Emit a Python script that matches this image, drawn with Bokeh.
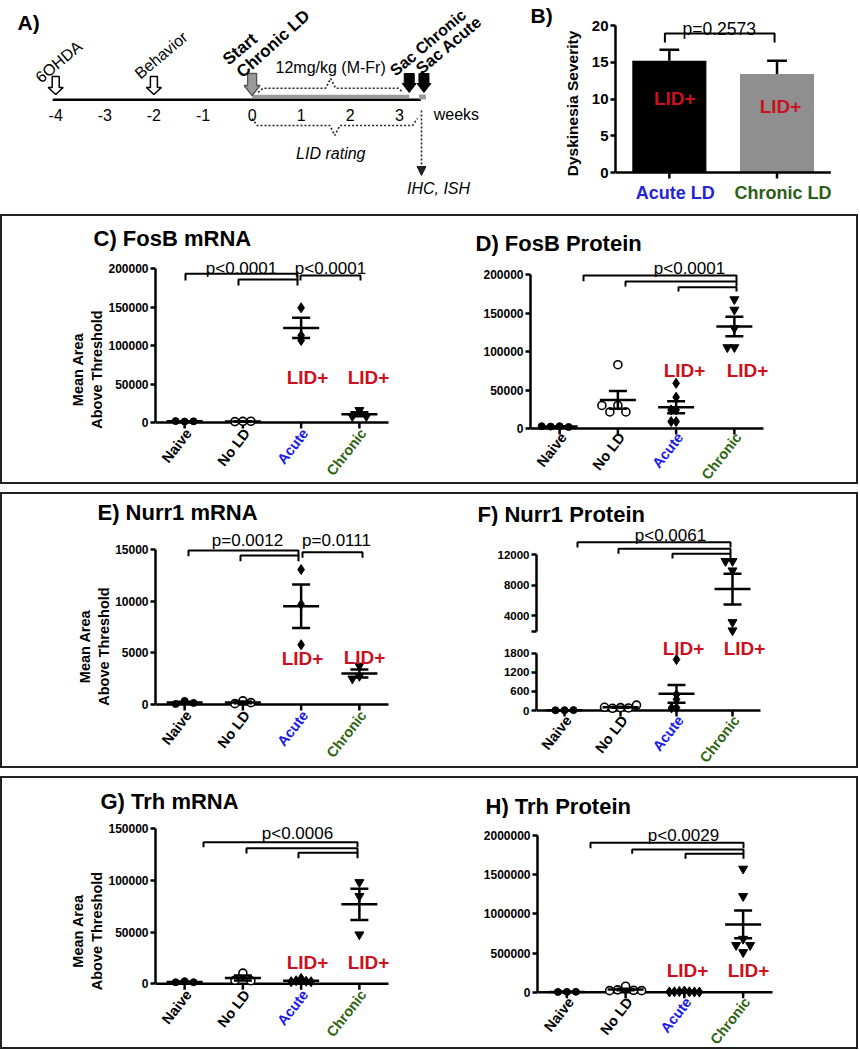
import math
import numpy as np
from bokeh.plotting import figure
from bokeh.layouts import row, column
from bokeh.models import (Range1d, FixedTicker, Arrow, NormalHead, BasicTickFormatter)
from bokeh.embed import file_html
from bokeh.resources import INLINE
from bokeh.core.properties import value

FONT = "Liberation Sans"
RED = "#cc1020"
BLUE = "#1c1ce8"
GREEN = "#2e6410"

# ---------------- data ----------------
# A) experimental timeline (weeks)
week_ticks = [-4, -3, -2, -1, 0, 1, 2, 3]
event_labels = ["6OHDA", "Behavior", "Start", "Sac Chronic", "Sac Acute"]
event_weeks = [-4, -2, 0, 3.2, 3.5]
chronic_ld_span = [0, 3.2]
lid_rating_span = [0, 3.45]
dose_label = "12mg/kg (M-Fr)"

# B) dyskinesia severity
b_groups = ["Acute LD", "Chronic LD"]
b_means = [15.2, 13.4]
b_sems = [1.5, 1.8]
b_pvalue = "p=0.2573"

# C-H) scatter panels: groups Naive, No LD, Acute, Chronic
groups = ["Naive", "No LD", "Acute", "Chronic"]
group_colors = ["black", "black", BLUE, GREEN]

fosb_mrna_naive = [1200, 1800, 1500]
fosb_mrna_nold = [1500, 1200, 1600]
fosb_mrna_acute = [149000, 106500, 113000]
fosb_mrna_chronic = [16000, 8000, 8000]

fosb_prot_naive = [3000, 2500, 2000, 3000]
fosb_prot_nold = [83000, 30000, 21500, 21500, 30000]
fosb_prot_acute = [58800, 40700, 24200, 24200, 9000, 9000]
fosb_prot_chronic = [168000, 154500, 130500, 105600, 105600]

nurr1_mrna_naive = [350, 50, 150]
nurr1_mrna_nold = [350, 80, 180]
nurr1_mrna_acute = [13060, 9680, 5780]
nurr1_mrna_chronic = [3750, 2750, 2500]

nurr1_prot_naive = [10, 8, 12]
nurr1_prot_nold = [90, 70, 80, 100, 170]
nurr1_prot_acute = [1600, 500, 350, 90, 80]
nurr1_prot_chronic = [11130, 11130, 9910, 3170, 2090]

trh_mrna_naive = [2500, 1500, 1500]
trh_mrna_nold = [10300, 3500, 3000]
trh_mrna_acute = [5200, 3000, 2500, 2000, 2000]
trh_mrna_chronic = [98300, 84800, 47700]

trh_prot_naive = [4000, 3000, 5000]
trh_prot_nold = [76000, 30000, 25000, 20000, 20000]
trh_prot_acute = [15000, 8000, 5000, 5000, 3000, 3000, 2000]
trh_prot_chronic = [1575000, 1225000, 680000, 600000, 600000, 510000]

fosb_mrna = [fosb_mrna_naive, fosb_mrna_nold, fosb_mrna_acute, fosb_mrna_chronic]
fosb_prot = [fosb_prot_naive, fosb_prot_nold, fosb_prot_acute, fosb_prot_chronic]
nurr1_mrna = [nurr1_mrna_naive, nurr1_mrna_nold, nurr1_mrna_acute, nurr1_mrna_chronic]
nurr1_prot = [nurr1_prot_naive, nurr1_prot_nold, nurr1_prot_acute, nurr1_prot_chronic]
trh_mrna = [trh_mrna_naive, trh_mrna_nold, trh_mrna_acute, trh_mrna_chronic]
trh_prot = [trh_prot_naive, trh_prot_nold, trh_prot_acute, trh_prot_chronic]

GROUP_MARKERS = [
    dict(marker="circle", size=7, fill_color="black", line_color="black", line_width=1),
    dict(marker="circle", size=8, fill_color="white", line_color="black", line_width=1.6),
    dict(marker="diamond", size=10, fill_color="black", line_color="black", line_width=1),
    dict(marker="inverted_triangle", size=9, fill_color="black", line_color="black", line_width=1),
]
SWARM_STEP = [9.0, 8.0, 5.0, 7.0]


def swarm(vals, s_px, step=7.0):
    size = step * 0.95
    cands = [0.0]
    for k in range(1, 12):
        cands += [-k * step, k * step]
    placed, out = [], []
    for v in vals:
        yp = v * s_px
        chosen = cands[-1]
        for c in cands:
            if all((c - px) ** 2 + (yp - py) ** 2 >= size ** 2 for px, py in placed):
                chosen = c
                break
        placed.append((chosen, yp))
        out.append(chosen)
    return out


def new_fig(w, h, xr, yr, left=0, xaxis=None, yaxis=None):
    f = figure(width=w, height=h, title=None, x_range=xr, y_range=yr,
               x_axis_type=xaxis, y_axis_type=yaxis, output_backend="svg",
               toolbar_location=None, min_border_left=left, min_border_right=0,
               min_border_top=0, min_border_bottom=0, frame_align=False)
    f.outline_line_color = None
    f.grid.visible = False
    return f


def title_strip(ox, oy, w, th, col, rw, text):
    f = new_fig(w, th, Range1d(0, w), Range1d(th, 0))
    f.text(x=[col - ox], y=[rw - oy], text=[text], text_font=value(FONT), text_font_size="22px",
           text_font_style="bold", text_align="left", text_baseline="middle", text_color="black")
    return f


class Panel:
    """A figure placed at page origin (ox, oy); all positions given in page pixels."""

    def __init__(self, ox, oy, w, h, left, right, ra, va, rb, vb, ncat=4):
        self.ox, self.oy, self.w, self.h = ox, oy, w, h
        self.s = (rb - ra) / (va - vb)
        self.y0 = ra + va * self.s
        self.left, self.right = left, right
        self.unit = (right - left) / ncat
        self.ncat = ncat
        self.p = new_fig(w, h, Range1d(self.X(left), self.X(ox + w)),
                         Range1d(self.Y(oy + h), self.Y(oy)),
                         left=int(round(left - ox)), yaxis="linear")

    def Y(self, r):
        return (self.y0 - r) / self.s

    def X(self, c):
        return -0.5 + (c - self.left) / self.unit

    def yaxis(self, ticks, bounds, size="12px", overrides=None):
        ax = self.p.yaxis[0]
        ax.ticker = FixedTicker(ticks=ticks)
        ax.formatter = BasicTickFormatter(use_scientific=False)
        ax.bounds = bounds
        ax.axis_line_width = 2.5
        ax.axis_line_color = "black"
        ax.major_tick_line_width = 2.5
        ax.major_tick_line_color = "black"
        ax.major_tick_in = 0
        ax.major_tick_out = 5
        ax.minor_tick_line_color = None
        ax.major_label_text_font = FONT
        ax.major_label_text_font_size = size
        ax.major_label_text_font_style = "bold"
        ax.major_label_text_color = "black"
        ax.major_label_standoff = 2
        if overrides:
            ax.major_label_overrides = overrides

    def ylabel(self, text, size="14.5px", standoff=0):
        ax = self.p.yaxis[0]
        ax.axis_label = text
        ax.axis_label_text_font = FONT
        ax.axis_label_text_font_size = size
        ax.axis_label_text_font_style = "bold"
        ax.axis_label_text_color = "black"
        ax.axis_label_standoff = standoff

    def xaxis(self):
        n = self.ncat
        cats = list(range(n))
        self.p.line([self.X(self.left), self.X(self.right)], [0, 0], line_width=2.5, line_color="black")
        self.p.segment(x0=cats, y0=[0] * n, x1=cats, y1=[self.Y(self.y0 + 6)] * n,
                       line_width=2.5, line_color="black")

    def text(self, col, rw, t, size="17px", style="normal", color="black", align="center",
             baseline="middle", angle=0.0):
        self.p.text(x=[self.X(col)], y=[self.Y(rw)], text=[t], text_font=value(FONT),
                    text_font_size=size, text_font_style=style, text_color=color,
                    text_align=align, text_baseline=baseline, angle=angle)

    def cat_labels(self, names, colors, size="14.5px", angle=52, dx=4, dy=8):
        n = len(names)
        self.p.text(x=[i + dx / self.unit for i in range(n)], y=[self.Y(self.y0 + dy)] * n,
                    text=names, text_color=colors, angle=math.radians(angle),
                    text_align="right", text_baseline="middle", text_font=value(FONT),
                    text_font_size=size, text_font_style="bold")

    def lid(self, col, rw):
        self.text(col, rw, "LID+", size="19px", style="bold", color=RED)

    def bracket(self, c1, c2, r, d):
        xs = [self.X(c1), self.X(c1), self.X(c2), self.X(c2)]
        ys = [self.Y(d), self.Y(r), self.Y(r), self.Y(d)]
        self.p.line(xs, ys, line_width=2, line_color="black")

    def groups(self, data, vmin=-1e18, vmax=1e18):
        for i, vals in enumerate(data):
            sel = [v for v in vals if vmin <= v < vmax]
            if sel:
                offs = swarm(sel, self.s, step=SWARM_STEP[i])
                xs = [i + o / self.unit for o in offs]
                self.p.scatter(xs, sel, **GROUP_MARKERS[i])
            m = float(np.mean(vals))
            se = float(np.std(vals, ddof=1) / math.sqrt(len(vals)))
            if vmin <= m < vmax:
                hw, cw = 18 / self.unit, 9 / self.unit
                self.p.segment(x0=[i - hw, i - cw, i - cw, i], y0=[m, m + se, m - se, m - se],
                               x1=[i + hw, i + cw, i + cw, i], y1=[m, m + se, m - se, m + se],
                               line_width=2.5, line_color="black")


# ---------------- Panel A: timeline (also carries the "B)" tag) ----------------
PXW = 49.1
A_W = 560
XS = -251.6 / PXW
XE = XS + A_W / PXW
pA = new_fig(A_W, 206, Range1d(XS, XE), Range1d(206, 0))


def W(px):
    return px / PXW


def atext(x, y, t, size="16px", style="normal", align="center", baseline="middle",
          angle=0.0, xo=0):
    pA.text(x=[x], y=[y], text=[t], text_font=value(FONT), text_font_size=size,
            text_font_style=style, text_align=align, text_baseline=baseline,
            angle=math.radians(angle), x_offset=xo, text_color="black")


def block_arrow(xc, top, base, tip, sw, hw):
    xs = [xc - W(sw / 2), xc + W(sw / 2), xc + W(sw / 2), xc + W(hw / 2), xc,
          xc - W(hw / 2), xc - W(sw / 2)]
    ys = [top, top, base, base, tip, base, base]
    return xs, ys


def brace(x1, x2, rw, end_row, tip_row, xc=None):
    xc = (x1 + x2) / 2 if xc is None else xc
    e = W(5)
    xs = [x1, x1 + e, xc - e, xc, xc + e, x2 - e, x2]
    ys = [end_row, rw, rw, tip_row, rw, rw, end_row]
    pA.line(xs, ys, line_width=1.6, line_color="#222222", line_dash="2 2")


pA.line([week_ticks[0] - W(3), event_weeks[4] - W(3)], [99.2, 99.2], line_width=2.5, line_color="black")
pA.line(chronic_ld_span, [96, 96], line_width=3.5, line_color="#9a9a9a")
pA.quad(left=[event_weeks[4] - W(5)], right=[event_weeks[4] + W(2)], top=[94], bottom=[99],
        fill_color="#9a9a9a", line_color=None)

hx, hy = zip(*[block_arrow(event_weeks[i], 76, 87, 94, 7, 15) for i in (0, 1)])
pA.patches(list(hx), list(hy), fill_color="white", line_color="black", line_width=1.5)
gx, gy = block_arrow(event_weeks[2], 73, 85, 95, 9, 16)
pA.patches([gx], [gy], fill_color="#9a9a9a", line_color="#555555", line_width=1.3)
bx, by = zip(*[block_arrow(event_weeks[i], 73, 83, 92, 10, 14) for i in (3, 4)])
pA.patches(list(bx), list(by), fill_color="black", line_color="black", line_width=1)

atext(event_weeks[0], 79, event_labels[0], size="16px", align="left", baseline="alphabetic", angle=40, xo=-18)
atext(event_weeks[1], 75, event_labels[1], size="16px", align="left", baseline="alphabetic", angle=40, xo=-17)
atext(event_weeks[2], 61, event_labels[2], size="17px", style="bold", align="left", baseline="alphabetic", angle=40, xo=-27)
atext(event_weeks[2], 74, "Chronic LD", size="17px", style="bold", align="left", baseline="alphabetic", angle=42, xo=-13)
atext(event_weeks[3], 72, event_labels[3], size="16px", style="bold", align="left", baseline="alphabetic", angle=40, xo=-17)
atext(event_weeks[4], 70, event_labels[4], size="16.5px", style="bold", align="left", baseline="alphabetic", angle=40, xo=-6)

pA.text(x=week_ticks, y=[114] * len(week_ticks), text=[str(t) for t in week_ticks],
        text_font=value(FONT), text_font_size="16px", text_align="center",
        text_baseline="middle", text_color="black")
atext(week_ticks[-1] + 0.7, 114, "weeks", align="left")

brace(chronic_ld_span[0] + W(6), chronic_ld_span[1] - W(6), 87.7, 92, 78)
atext(sum(chronic_ld_span) / 2, 67, dose_label)
brace(lid_rating_span[0], lid_rating_span[1] - W(4), 125, 118, 135)
atext(sum(lid_rating_span) / 2 - W(6), 153, "LID rating", style="italic")
pA.add_layout(Arrow(x_start=lid_rating_span[1], y_start=110, x_end=lid_rating_span[1], y_end=175,
                    line_dash="2 2", line_width=1.6, line_color="#222222",
                    end=NormalHead(size=9, fill_color="#222222", line_color="#222222")))
atext(lid_rating_span[1] + W(17), 188, "IHC, ISH", style="italic")
atext(XS + W(17), 21.5, "A)", size="21px", style="bold", align="left")
atext(XS + W(530), 15, "B)", size="21px", style="bold", align="left")

# ---------------- Panel B: bars ----------------
B = Panel(A_W, 0, 860 - A_W, 206, 612, 830, 25, 20, 172, 0, ncat=2)
B.yaxis([0, 5, 10, 15, 20], (0, 20), size="15px")
B.ylabel("Dyskinesia Severity", size="15.5px", standoff=8)
B.p.vbar(x=[0, 1], bottom=0, top=b_means, width=75 / B.unit, fill_color=["black", "#8f8f8f"],
         line_color=None)
cw = 10 / B.unit
B.p.segment(x0=[0, 1, -cw, 1 - cw], y0=[b_means[0], b_means[1], b_means[0] + b_sems[0], b_means[1] + b_sems[1]],
            x1=[0, 1, cw, 1 + cw], y1=[b_means[0] + b_sems[0], b_means[1] + b_sems[1],
                                       b_means[0] + b_sems[0], b_means[1] + b_sems[1]],
            line_width=2.5, line_color="black")
B.xaxis()
B.bracket(662, 773, 33, 42)
B.text(717, 28, b_pvalue, size="17.5px")
B.lid(672, 98)
B.lid(779, 106)
B.p.text(x=[i + 6 / B.unit for i in range(2)], y=[B.Y(192)] * 2, text=b_groups,
         text_color=["#2424d8", "#2d5e1a"], text_align="center", text_baseline="middle",
         text_font=value(FONT), text_font_size="18px", text_font_style="bold")

# ---------------- Panel C ----------------
tC = title_strip(2, 216, 427, 40, 93, 238, "C) FosB mRNA")
C = Panel(2, 256, 427, 226, 155, 388, 268, 200000, 422, 0)
C.yaxis([0, 50000, 100000, 150000, 200000], (0, 200000))
C.ylabel("Mean Area\nAbove Threshold")
C.xaxis()
C.groups(fosb_mrna)
C.cat_labels(groups, group_colors)
C.bracket(185, 297, 273.3, 280)
C.bracket(238, 297, 279, 285)
C.bracket(300, 360, 275, 280)
C.text(241, 268, "p<0.0001")
C.text(330, 268, "p<0.0001")
C.lid(307, 377)
C.lid(368, 377)

# ---------------- Panel D ----------------
tD = title_strip(429, 216, 427, 40, 475, 243, "D) FosB Protein")
D = Panel(429, 256, 427, 226, 530, 763, 274.3, 200000, 428, 0)
D.yaxis([0, 50000, 100000, 150000, 200000], (0, 200000))
D.xaxis()
D.groups(fosb_prot)
D.cat_labels(groups, group_colors, dy=6)
D.bracket(583, 736, 275, 280.7)
D.bracket(625, 736, 281, 286)
D.bracket(678, 736, 286.7, 291)
D.text(689, 268, "p<0.0001")
D.lid(684, 370)
D.lid(747, 370)

# ---------------- Panel E ----------------
tE = title_strip(2, 494, 427, 32, 97, 512, "E) Nurr1 mRNA")
E = Panel(2, 526, 427, 240, 155, 388, 549, 15000, 704, 0)
E.yaxis([0, 5000, 10000, 15000], (0, 15000))
E.ylabel("Mean Area\nAbove Threshold")
E.xaxis()
E.groups(nurr1_mrna)
E.cat_labels(groups, group_colors)
E.bracket(188, 298, 550, 555.7)
E.bracket(240, 298, 555, 560.7)
E.bracket(302, 362, 551.7, 557.3)
E.text(247, 540, "p=0.0012")
E.text(336, 540, "p=0.0111")
E.lid(302, 658)
E.lid(364, 657)

# ---------------- Panel F (broken axis) ----------------
tF = title_strip(429, 494, 427, 32, 477, 514, "F) Nurr1 Protein")
Fu = Panel(429, 526, 427, 111, 536, 760, 554, 12000, 630.7, 2000)
Fu.yaxis([2000, 4000, 8000, 12000], (2000, 12000), size="11.5px", overrides={2000: ""})
Fu.groups(nurr1_prot, vmin=2000)
Fu.bracket(577, 730, 541.7, 547)
Fu.bracket(618, 730, 548.3, 553.3)
Fu.bracket(672, 730, 553.3, 558)
Fu.text(670, 535, "p<0.0061")

Fl = Panel(429, 637, 427, 129, 536, 760, 652.7, 1800, 710, 0)
Fl.yaxis([0, 600, 1200, 1800], (0, 1800), size="11.5px")
Fl.xaxis()
Fl.groups(nurr1_prot, vmax=2000)
Fl.cat_labels(groups, group_colors, dy=7)
Fl.lid(683, 648)
Fl.lid(744, 648)

# ---------------- Panel G ----------------
tG = title_strip(2, 778, 427, 36, 100, 801, "G) Trh mRNA")
G = Panel(2, 814, 427, 233, 155, 388, 828.3, 150000, 983.3, 0)
G.yaxis([0, 50000, 100000, 150000], (0, 150000))
G.ylabel("Mean Area\nAbove Threshold")
G.xaxis()
G.groups(trh_mrna)
G.cat_labels(groups, group_colors)
G.bracket(203, 357, 841.7, 846.7)
G.bracket(246, 357, 847.7, 853)
G.bracket(298, 357, 852.3, 857.7)
G.text(297, 833, "p<0.0006")
G.lid(307, 961.7)
G.lid(368, 961.7)

# ---------------- Panel H ----------------
tH = title_strip(429, 778, 427, 40, 485, 806, "H) Trh Protein")
H = Panel(429, 818, 427, 229, 537, 772, 835, 2000000, 991.7, 0)
H.yaxis([0, 500000, 1000000, 1500000, 2000000], (0, 2000000))
H.xaxis()
H.groups(trh_prot)
H.cat_labels(groups, group_colors, dy=7)
H.bracket(590, 743, 842.3, 847.7)
H.bracket(631.7, 743, 849, 853.3)
H.bracket(685, 743, 853.3, 858.3)
H.text(683, 835, "p<0.0029")
H.lid(687, 970)
H.lid(748, 970)

# ---------------- layout ----------------
box_style = {"border": "2px solid #222222"}
top = row(pA, B.p)
box1 = row(column(tC, C.p), column(tD, D.p), styles=box_style)
box2 = row(column(tE, E.p), column(tF, Fu.p, Fl.p), styles=box_style)
box3 = row(column(tG, G.p), column(tH, H.p), styles=box_style)
root = column(top, box1, box2, box3, spacing=8)

open("out.html", "w").write(file_html(root, INLINE))
